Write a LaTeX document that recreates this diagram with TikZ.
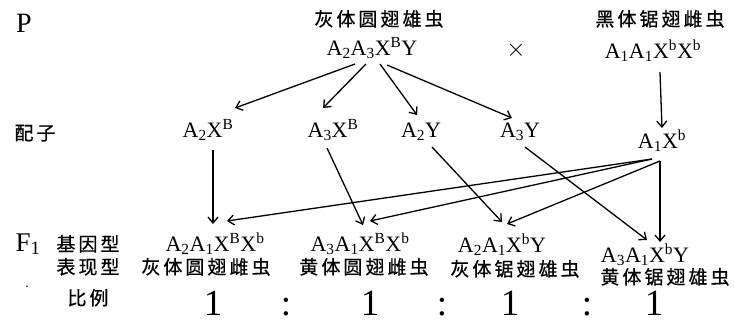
\documentclass[tikz,border=0pt]{standalone}
\usepackage{fontspec}
\setmainfont{Liberation Serif}
\newfontfamily\cjk[LetterSpace=16, FakeBold=0.6]{Noto Sans CJK SC}
\usetikzlibrary{arrows.meta}

\begin{document}
\begin{tikzpicture}[x=1pt, y=-1pt, >={Straight Barb[length=6pt,width=10pt]},
  every node/.style={inner sep=0pt, anchor=base},
  gene/.style={font=\fontsize{22}{24}\selectfont},
  cn/.style={font=\cjk\fontsize{19}{20}\selectfont},
  big/.style={font=\fontsize{37}{37}\selectfont},
  link/.style={->, line width=1.3pt}]
\useasboundingbox (0,0) rectangle (734,322);

% parents
\node [font=\fontsize{28}{28}\selectfont] (P) at (24,32) {P};
\node [cn] (male-name) at (379,26) {灰体圆翅雄虫};
\node [gene] (male) at (372,55) {A\textsubscript{2}A\textsubscript{3}X\textsuperscript{B}Y};
\node [font=\fontsize{62}{62}\selectfont, anchor=center] (cross) at (516,50) {$\times$};
\node [cn] (female-name) at (660,26) {黑体锯翅雌虫};
\node [gene] (female) at (653,58) {A\textsubscript{1}A\textsubscript{1}X\textsuperscript{b}X\textsuperscript{b}};

% gametes
\node [cn] (gamete) at (35,140) {配子};
\foreach \m/\x/\y/\t in {1/208/137/A\textsubscript{2}X\textsuperscript{B},
                          2/333/137/A\textsubscript{3}X\textsuperscript{B},
                          3/421/137/A\textsubscript{2}Y,
                          4/520/137/A\textsubscript{3}Y,
                          5/662/148/A\textsubscript{1}X\textsuperscript{b}}
  \node [gene] (gamete-\m) at (\x,\y) {\t};

% F1
\node [font=\fontsize{27}{28}\selectfont] (F1) at (28,251) {F\textsubscript{1}};
\foreach \l/\y in {基因型/251, 表现型/274, 比例/305}
  \node [cn] at (88,\y) {\l};
\node [font=\fontsize{14}{14}\selectfont] (dot) at (27,287) {.};

\foreach \m/\x/\y/\t in {1/215/251/A\textsubscript{2}A\textsubscript{1}X\textsuperscript{B}X\textsuperscript{b},
                          2/360/251/A\textsubscript{3}A\textsubscript{1}X\textsuperscript{B}X\textsuperscript{b},
                          3/502/252/A\textsubscript{2}A\textsubscript{1}X\textsuperscript{b}Y,
                          4/645/262/A\textsubscript{3}A\textsubscript{1}X\textsuperscript{b}Y}
  \node [gene] (child-\m) at (\x,\y) {\t};

\foreach \m/\x/\y/\t in {1/206/274/灰体圆翅雌虫, 2/364/274/黄体圆翅雌虫,
                          3/515/276/灰体锯翅雄虫, 4/665/284/黄体锯翅雄虫}
  \node [cn] (trait-\m) at (\x,\y) {\t};

\foreach \m/\x/\y/\t in {1/213/315/1, 2/286/315/:, 3/370/315/1, 4/442/315/:,
                          5/510/315/1, 6/587/315/:, 7/654/315/1}
  \node [big] (ratio-\m) at (\x,\y) {\t};

% arrows
\draw [link] ([xshift=-17pt, yshift=-9pt]male.base) -- ([xshift=27pt, yshift=29pt]gamete-1.base);
\draw [link] ([xshift=-6pt, yshift=-9pt]male.base) -- ([xshift=-10pt, yshift=29pt]gamete-2.base);
\draw [link] ([xshift=8pt, yshift=-9pt]male.base) -- ([xshift=-4pt, yshift=22pt]gamete-3.base);
\draw [link] ([xshift=15pt, yshift=-10pt]male.base) -- ([xshift=-8pt, yshift=19pt]gamete-4.base);
\draw [link] ([xshift=7pt, yshift=-14pt]female.base) -- ([yshift=20pt]gamete-5.base);

\draw [link] ([xshift=5pt, yshift=-13pt]gamete-1.base) -- ([xshift=-2pt, yshift=27pt]child-1.base);
\draw [link] ([xshift=-6pt, yshift=-11pt]gamete-2.base) -- ([xshift=3pt, yshift=26pt]child-2.base);
\draw [link] ([xshift=11pt, yshift=-10pt]gamete-3.base) -- ([yshift=30pt]child-3.base);
\draw [link] ([xshift=5pt, yshift=-10pt]gamete-4.base) -- ([xshift=2pt, yshift=22pt]child-4.base);

\draw [link] ([xshift=-10pt, yshift=-11pt]gamete-5.base) -- ([xshift=12pt, yshift=30pt]child-1.base);
\draw [link] ([xshift=-10pt, yshift=-11pt]gamete-5.base) -- ([xshift=10pt, yshift=30pt]child-2.base);
\draw [link] ([xshift=-2pt, yshift=-13pt]gamete-5.base) -- ([xshift=5pt, yshift=28pt]child-3.base);
\draw [link] ([xshift=-2pt, yshift=-13pt]gamete-5.base) -- ([xshift=15pt, yshift=20pt]child-4.base);
\end{tikzpicture}
\end{document}
